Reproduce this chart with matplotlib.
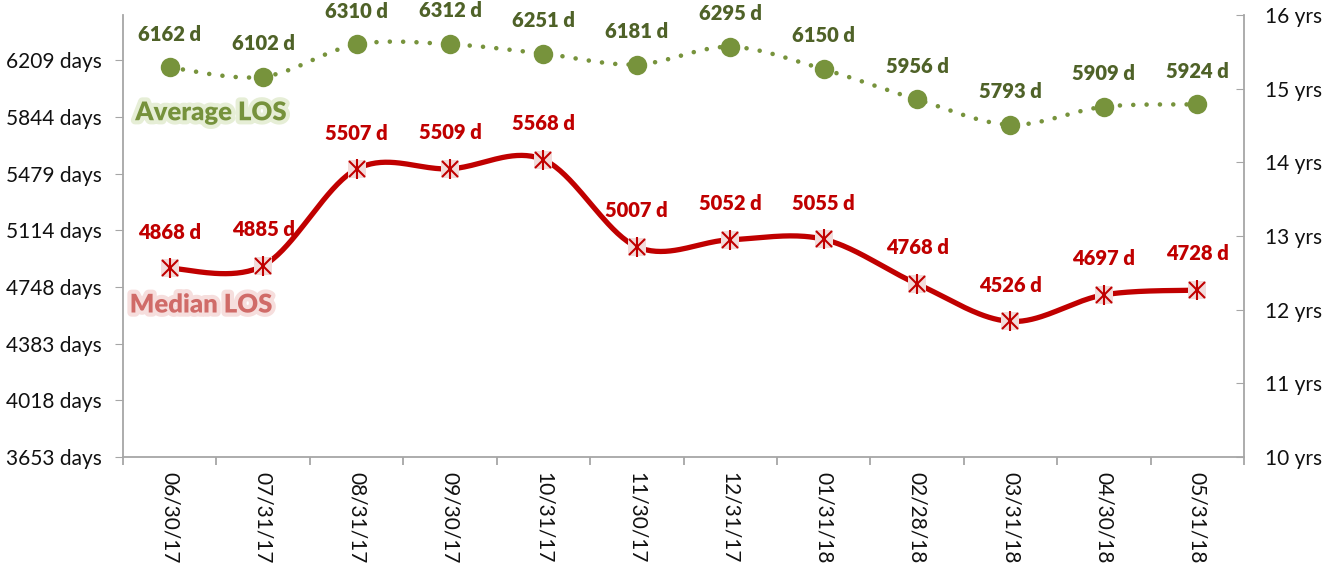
import numpy as np
import matplotlib
matplotlib.use("Agg")
import matplotlib.pyplot as plt
import matplotlib.patheffects as pe

categories = ["06/30/17", "07/31/17", "08/31/17", "09/30/17", "10/31/17", "11/30/17",
              "12/31/17", "01/31/18", "02/28/18", "03/31/18", "04/30/18", "05/31/18"]
avg_los = [6162, 6102, 6310, 6312, 6251, 6181, 6295, 6150, 5956, 5793, 5909, 5924]
median_los = [4868, 4885, 5507, 5509, 5568, 5007, 5052, 5055, 4768, 4526, 4697, 4728]
left_ticks = [3652.5 + 365.25 * i for i in range(8)]
right_ticks = [10, 11, 12, 13, 14, 15, 16]

FONT = ["Lato", "DejaVu Sans"]
plt.rcParams['font.family'] = FONT

fig = plt.figure(figsize=(13.31, 5.69), dpi=100)
ax = fig.add_axes([123/1331, 1 - 457/569, (1244-123)/1331, (457-15)/569])
ax2 = ax.twinx()

x = np.arange(len(categories))
ax.set_xlim(-0.5, len(categories) - 0.5)
ax.set_ylim(3652.5, 6500)
ax2.set_ylim(10, 16)


def smooth(ax, xs, ys, n=40):
    pts = ax.transData.transform(np.column_stack([xs, ys]))
    P = np.vstack([pts[0], pts, pts[-1]])
    out = []
    for i in range(1, len(P) - 2):
        p0, p1, p2, p3 = P[i-1], P[i], P[i+1], P[i+2]
        c1 = p1 + (p2 - p0) / 6.0
        c2 = p2 - (p3 - p1) / 6.0
        t = np.linspace(0, 1, n)[:, None]
        seg = ((1-t)**3) * p1 + 3*((1-t)**2)*t*c1 + 3*(1-t)*t**2*c2 + t**3*p2
        out.append(seg if i == 1 else seg[1:])
    out = np.vstack(out)
    d = ax.transData.inverted().transform(out)
    return d[:, 0], d[:, 1]


green_line = "#77933C"
green_text = "#4F6228"
red = "#C00000"

# Average LOS (dotted smooth)
sx, sy = smooth(ax, x, avg_los)
ax.plot(sx, sy, color=green_line, lw=3.3, linestyle=(0, (0.01, 2.9)),
        dash_capstyle="round", zorder=3)
ax.plot(x, avg_los, "o", color=green_line, markersize=14, zorder=4, markeredgewidth=0)

# Median LOS (solid smooth)
sx, sy = smooth(ax, x, median_los)
ax.plot(sx, sy, color=red, lw=3.8, solid_capstyle="round", zorder=3)
ax.plot(x, median_los, "s", color="#F2DCDB", markersize=13, markeredgewidth=0, zorder=4)
ax.plot(x, median_los, "x", color=red, markersize=11, markeredgewidth=1.5, zorder=5)
ax.plot(x, median_los, "|", color=red, markersize=14, markeredgewidth=1.5, zorder=5)

for xi, v in zip(x, avg_los):
    ax.annotate(f"{v} d", (xi, v), xytext=(0, 24), textcoords="offset points",
                ha="center", va="center", fontsize=14.5, fontweight="heavy",
                color=green_text, annotation_clip=False, zorder=6)
for xi, v in zip(x, median_los):
    ax.annotate(f"{v} d", (xi, v), xytext=(0, 26), textcoords="offset points",
                ha="center", va="center", fontsize=14.5, fontweight="heavy",
                color=red, annotation_clip=False, zorder=6)

ax.text(0.011, 0.78, "Average LOS", transform=ax.transAxes, fontsize=18.5,
        fontweight="heavy", color="#76923C", va="center", ha="left",
        path_effects=[pe.withStroke(linewidth=6, foreground="#E6EED6")])
ax.text(0.006, 0.345, "Median LOS", transform=ax.transAxes, fontsize=18.5,
        fontweight="heavy", color="#D06B68", va="center", ha="left",
        path_effects=[pe.withStroke(linewidth=6, foreground="#F6DEDD")])

spine_c = "#A6A6A6"
for a in (ax, ax2):
    for s in a.spines.values():
        s.set_color(spine_c)
    a.spines["top"].set_visible(False)
ax.spines["right"].set_visible(False)
ax2.spines["left"].set_visible(False)
ax2.spines["bottom"].set_visible(False)
ax.spines["left"].set_linewidth(1.3)
ax2.spines["right"].set_linewidth(1.3)
ax.spines["bottom"].set_linewidth(1.3)

ax.set_yticks(left_ticks)
ax.set_yticklabels([f"{int(t + 0.5)} days" for t in left_ticks])
ax.tick_params(axis="y", direction="out", length=6, color=spine_c, labelsize=15,
               labelcolor="#111111", pad=9)
ax2.set_yticks(right_ticks)
ax2.set_yticklabels([f"{t} yrs" for t in right_ticks])
ax2.tick_params(axis="y", direction="in", length=6, color=spine_c, labelsize=15,
                labelcolor="#111111", pad=15)

ax.set_xticks(x)
ax.set_xticklabels(categories, rotation=-90, fontsize=15, color="#111111")
ax.tick_params(axis="x", length=0, pad=11)
ax.set_xticks(np.arange(-0.5, len(categories)), minor=True)
ax.tick_params(axis="x", which="minor", direction="out", length=6, color=spine_c, width=1.3)

fig.savefig("out.png", dpi=100)
